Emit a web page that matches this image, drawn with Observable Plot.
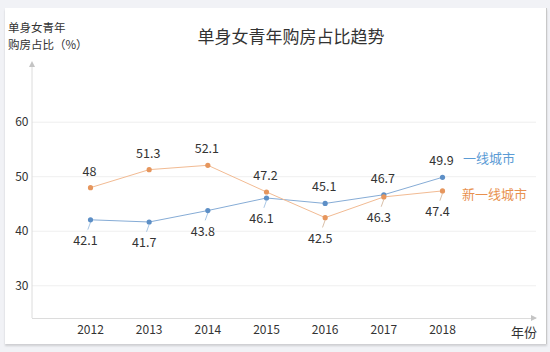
<!DOCTYPE html>
<html><head><meta charset="utf-8">
<script src="https://cdn.jsdelivr.net/npm/d3@7"></script>
<script src="https://cdn.jsdelivr.net/npm/@observablehq/plot@0.6"></script>
<style>
body{margin:0;background:#f1f2f6;}
#wrap{position:relative;width:550px;height:352px;overflow:hidden;font-family:"Noto Sans CJK SC",sans-serif;}
#card{position:absolute;left:5px;top:8px;width:541px;height:336px;background:#fff;border-right:1px solid #c8c8c8;box-shadow:0 2px 2px rgba(0,0,0,0.15);}
.t{position:absolute;white-space:nowrap;color:#333;line-height:1;}
#chart{position:absolute;left:0;top:0;}
</style></head><body>
<div id="wrap">
<div id="card"></div>
<div id="chart"></div>
<div class="t" style="left:0;width:582px;text-align:center;top:27px;font-size:17px;">单身女青年购房占比趋势</div>
<div class="t" style="left:8px;top:22px;font-size:11.5px;height:12px;">单身女青年</div>
<div class="t" style="left:8px;top:39px;font-size:11.5px;height:12px;">购房占比（%）</div>
<div class="t" id="lg1" style="left:463px;top:151px;font-size:13px;color:#5b9bd5;"></div>
<div class="t" id="lg2" style="left:462px;top:187px;font-size:13px;color:#e8914f;"></div>
<div class="t" style="left:511px;top:325px;font-size:13px;">年份</div>
</div>
<script>
const years = [2012, 2013, 2014, 2015, 2016, 2017, 2018];
const tier1 = [42.1, 41.7, 43.8, 46.1, 45.1, 46.7, 49.9];
const newTier1 = [48, 51.3, 52.1, 47.2, 42.5, 46.3, 47.4];
const yTicks = [30, 40, 50, 60];
const seriesNames = ["一线城市", "新一线城市"];

document.getElementById("lg1").textContent = seriesNames[0];
document.getElementById("lg2").textContent = seriesNames[1];

const rows = [];
years.forEach((yr, i) => {
  rows.push({year: yr, value: tier1[i], series: seriesNames[0], upper: tier1[i] > newTier1[i]});
  rows.push({year: yr, value: newTier1[i], series: seriesNames[1], upper: newTier1[i] > tier1[i]});
});
const above = rows.filter(d => d.upper);
const below = rows.filter(d => !d.upper);

const lineColor = {[seriesNames[0]]: "#86acd6", [seriesNames[1]]: "#f2bb93"};
const dotColor = {[seriesNames[0]]: "#5d8fc6", [seriesNames[1]]: "#e6965d"};
const leadColor = {[seriesNames[0]]: "#a9c7e6", [seriesNames[1]]: "#d9bfa8"};

function axisDecor(index, scales, values, dim) {
  const g = d3.create("svg:g");
  const x0 = dim.marginLeft, yb = dim.height - dim.marginBottom, yt = dim.marginTop;
  const xr = dim.width - dim.marginRight;
  g.append("line").attr("x1", x0).attr("x2", x0).attr("y1", yb).attr("y2", yt)
    .attr("stroke", "#dcdcdc");
  g.append("path").attr("d", `M${x0 - 3},${yt + 2}L${x0},${yt - 4}L${x0 + 3},${yt + 2}Z`).attr("fill", "#c4c4c4");
  g.append("path").attr("d", `M${xr - 5},${yb - 3}L${xr + 1},${yb}L${xr - 5},${yb + 3}Z`).attr("fill", "#c4c4c4");
  return g.node();
}

const chart = Plot.plot({
  width: 550,
  height: 352,
  marginLeft: 32,
  marginRight: 14,
  marginTop: 65,
  marginBottom: 34,
  style: {background: "transparent", fontFamily: "'Noto Sans CJK SC', sans-serif", fontSize: "12px", color: "#333"},
  x: {type: "linear", domain: [2012, 2018], range: [90, 442], ticks: years, tickFormat: d => String(d), tickSize: 0, tickPadding: 7, label: null},
  y: {domain: [24, 70.4], ticks: yTicks, tickSize: 0, tickPadding: 4, label: null},
  marks: [
    Plot.ruleY(yTicks, {stroke: "#efefef"}),
    Plot.ruleY([24], {stroke: "#dcdcdc"}),
    axisDecor,
    Plot.line(rows, {x: "year", y: "value", z: "series", stroke: d => lineColor[d.series], strokeWidth: 1}),
    Plot.link(below, {x1: "year", y1: d => d.value - 0.45, x2: d => d.year - 0.045, y2: d => d.value - 1.8, stroke: d => leadColor[d.series], strokeWidth: 1}),
    Plot.dot(rows, {x: "year", y: "value", r: 2.6, fill: d => dotColor[d.series], stroke: "none"}),
    Plot.text(above, {x: "year", y: "value", text: d => String(d.value), dy: -16, dx: -1, fontSize: 12.5, fill: "#333"}),
    Plot.text(below, {x: "year", y: "value", text: d => String(d.value), dy: 21, dx: -5, fontSize: 12.5, fill: "#333"})
  ]
});
document.getElementById("chart").appendChild(chart);
</script>
</body></html>
